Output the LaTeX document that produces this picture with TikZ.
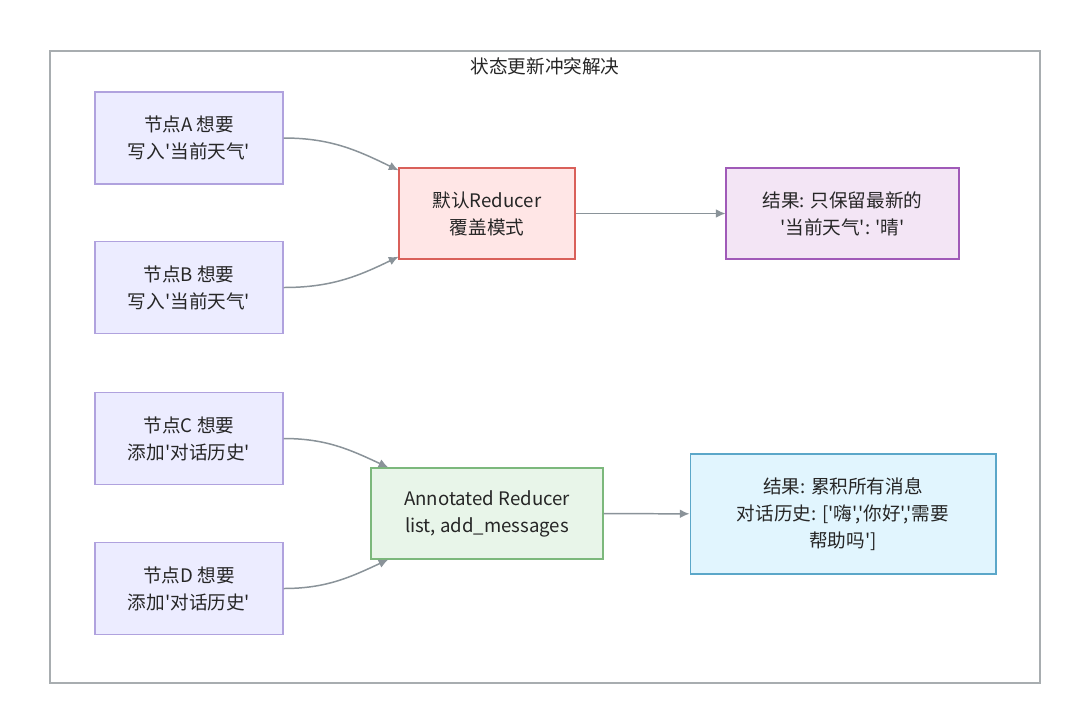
\documentclass[tikz,border=0pt]{standalone}
\usepackage{fontspec}
\newfontfamily\cjk{Noto Sans CJK SC}
\usepackage{tikz}
\usetikzlibrary{arrows,arrows.meta,shapes}
\usetikzlibrary{positioning}
\definecolor{framegray}{HTML}{A8ADB0}
\definecolor{linkgray}{HTML}{8A9399}
\definecolor{askfill}{HTML}{ECECFF}
\definecolor{askline}{HTML}{B0A2DE}
\definecolor{redfill}{HTML}{FFE6E6}
\definecolor{redline}{HTML}{D9605A}
\definecolor{purfill}{HTML}{F3E5F5}
\definecolor{purline}{HTML}{A05AB8}
\definecolor{grnfill}{HTML}{E8F5E9}
\definecolor{grnline}{HTML}{7CB87C}
\definecolor{bluefill}{HTML}{E1F5FE}
\definecolor{blueline}{HTML}{5BA7C9}
\tikzset{
    box/.style={draw, line width=0.6pt, align=center, inner sep=0pt,
        font=\cjk\fontsize{10.6}{15.4}\selectfont, text=black!85},
    askbox/.style={box, fill=askfill, draw=askline,
        minimum width=3.76cm, minimum height=1.84cm},
    overwrite/.style={box, fill=redfill, draw=redline,
        minimum width=3.52cm, minimum height=1.82cm},
    keeplast/.style={box, fill=purfill, draw=purline,
        minimum width=4.66cm, minimum height=1.82cm},
    annotated/.style={box, fill=grnfill, draw=grnline,
        minimum width=4.64cm, minimum height=1.82cm},
    keepall/.style={box, fill=bluefill, draw=blueline,
        minimum width=6.12cm, minimum height=2.4cm},
    link/.style={draw=linkgray, line width=0.85pt, -{Latex[length=5.5pt,width=5pt]}},
}
\begin{document}
\begin{tikzpicture}[x=0.02cm, y=-0.02cm]
	\useasboundingbox[fill=white] (0,0) rectangle (1080,725);
	\draw[framegray, line width=0.7pt] (50,51) rectangle (1040,683);
	\node[font=\cjk\fontsize{10.6}{12}\selectfont, text=black!85] (title) at (545,66) {状态更新冲突解决};
	% default reducer
	\node[askbox] (A) at (189,138) {节点A 想要\\写入'当前天气'};
	\node[askbox] (B) at (189,287.5) {节点B 想要\\写入'当前天气'};
	\node[overwrite] (R1) at (487,213.5) {默认Reducer\\覆盖模式};
	\node[keeplast] (K1) at (842.5,213.5) {结果: 只保留最新的\\'当前天气': '晴'};
	\draw[link] (A.east) to[out=0, in=154] (R1.154);
	\draw[link] (B.east) to[out=0, in=206] (R1.206);
	\draw[link] (R1) -- (K1);
	% annotated reducer
	\node[askbox] (C) at (189,438.5) {节点C 想要\\添加'对话历史'};
	\node[askbox] (D) at (189,588.5) {节点D 想要\\添加'对话历史'};
	\node[annotated] (R2) at (487,513.5) {Annotated Reducer\\list, add\_messages};
	\node[keepall] (K2) at (843,514) {结果: 累积所有消息\\对话历史: ['嗨','你好','需要\\帮助吗']};
	\draw[link] (C.east) to[out=0, in=155] (R2.155);
	\draw[link] (D.east) to[out=0, in=205] (R2.205);
	\draw[link] (R2) -- (K2);
\end{tikzpicture}
\end{document}
